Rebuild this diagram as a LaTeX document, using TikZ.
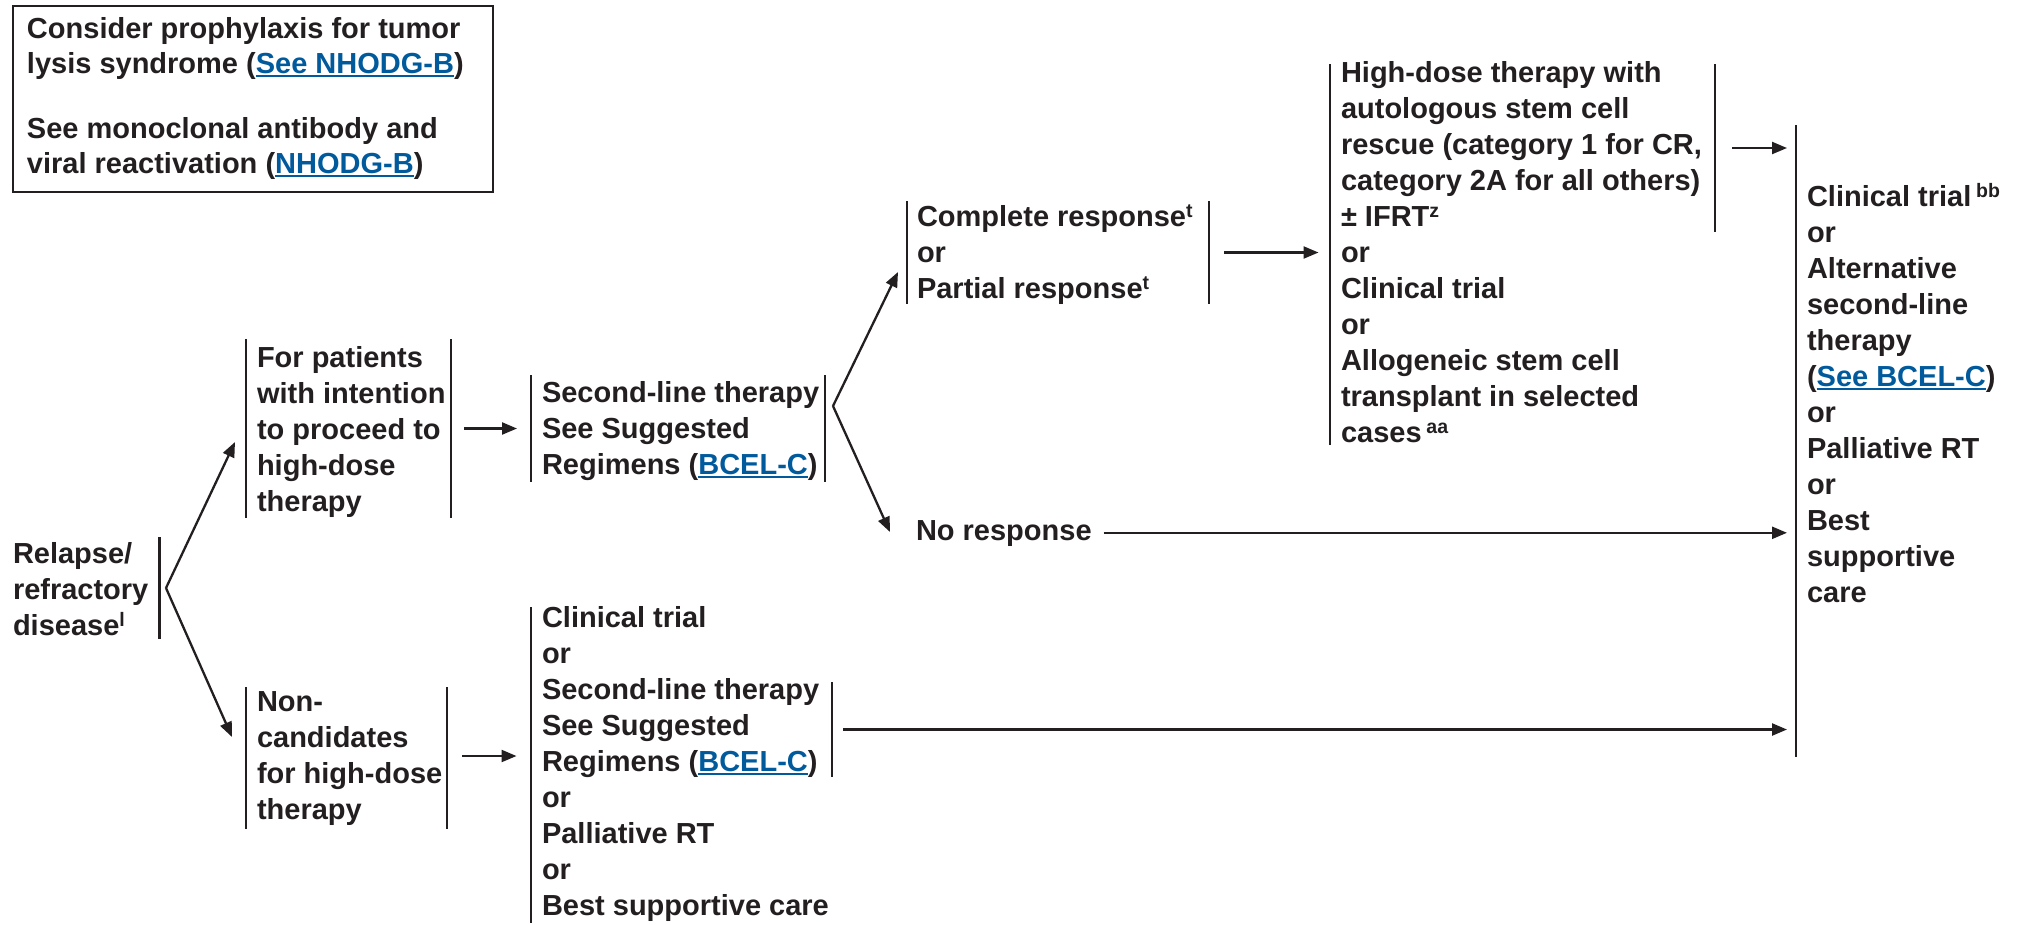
\documentclass[tikz,border=0pt]{standalone}
\usepackage{fontspec}
\setmainfont{Liberation Sans}
\usetikzlibrary{arrows.meta,fit}
\definecolor{ink}{HTML}{231F20}
\definecolor{linkblue}{HTML}{005A9C}
\newcommand\lnk[1]{{\color{linkblue}\setbox0\hbox{#1}\rlap{\rule[-3.5pt]{\wd0}{2pt}}\box0}}
\newcommand\sups[1]{\raisebox{9pt}{\fontsize{19.5}{19.5}\selectfont\bfseries #1}}
\tikzset{
  every node/.style={inner sep=0pt, outer sep=0pt, text=ink},
  txt/.style={anchor=north west, font=\fontsize{29}{36}\selectfont\bfseries},
  frame/.style={inner sep=0pt, draw=none},
  bar/.style={draw=ink, line width=2.6pt},
  arr/.style={draw=ink, line width=2.3pt, -{Triangle[length=15pt,width=12pt]}},
}
\begin{document}
\begin{tikzpicture}[x=1pt,y=-1pt]
\useasboundingbox (0,0) rectangle (2018,924);

% note box
\node[fit={(13,6)(493,192)}, draw=ink, line width=2.8pt] (note) {};
\node[anchor=north west, font=\fontsize{29}{35}\selectfont\bfseries] (noteT) at (27,13.5)
  {\begin{tabular}{@{}l@{}}Consider prophylaxis for tumor\\lysis syndrome (\lnk{See NHODG-B})\\[30pt]
   See monoclonal antibody and\\viral reactivation (\lnk{NHODG-B})\end{tabular}};

% frames (bar extents)
\node[frame, fit={(159,537)(159,639)}] (rel) {};
\node[frame, fit={(246,339)(451,518)}] (fp) {};
\node[frame, fit={(531,375)(825,482)}] (sl) {};
\node[frame, fit={(246,687)(447,829)}] (nc) {};
\node[frame, fit={(531,607)(531,923)}] (bl) {};
\node[frame, fit={(531,682)(832,777)}] (blin) {};
\node[frame, fit={(907,201)(1209,304)}] (cr) {};
\node[frame, fit={(1330,64)(1330,445)}] (hd) {};
\node[frame, fit={(1330,64)(1715,232)}] (hdr) {};
\node[frame, fit={(1796,125)(2010,757)}] (rc) {};

% bars
\draw[bar] (rel.north east) -- (rel.south east);
\draw[bar] (fp.north west) -- (fp.south west) (fp.north east) -- (fp.south east);
\draw[bar] (sl.north west) -- (sl.south west) (sl.north east) -- (sl.south east);
\draw[bar] (nc.north west) -- (nc.south west) (nc.north east) -- (nc.south east);
\draw[bar] (bl.north) -- (bl.south) (blin.north east) -- (blin.south east);
\draw[bar] (cr.north west) -- (cr.south west) (cr.north east) -- (cr.south east);
\draw[bar] (hd.north) -- (hd.south) (hdr.north east) -- (hdr.south east);
\draw[bar] (rc.north west) -- (rc.south west);

% texts
\node[txt] (relT) at (13,537.8)
  {\begin{tabular}{@{}l@{}}Relapse/\\refractory\\disease\sups{l}\end{tabular}};
\node[txt] (fpT) at (257,341.8)
  {\begin{tabular}{@{}l@{}}For patients\\with intention\\to proceed to\\high-dose\\therapy\end{tabular}};
\node[txt] (slT) at (542,376.8)
  {\begin{tabular}{@{}l@{}}Second-line therapy\\See Suggested\\Regimens (\lnk{BCEL-C})\end{tabular}};
\node[txt] (crT) at (917,200.8)
  {\begin{tabular}{@{}l@{}}Complete response\sups{t}\\or\\Partial response\sups{t}\end{tabular}};
\node[txt] (hdT) at (1341,56.8)
  {\begin{tabular}{@{}l@{}}High-dose therapy with\\autologous stem cell\\rescue (category 1 for CR,\\category 2A for all others)\\± IFRT\sups{z}\\or\\Clinical trial\\or\\Allogeneic stem cell\\transplant in selected\\cases\,\sups{aa}\end{tabular}};
\node[txt] (nr) at (916,514.8)
  {\begin{tabular}{@{}l@{}}No response\end{tabular}};
\node[txt] (rcT) at (1807,180.8)
  {\begin{tabular}{@{}l@{}}Clinical trial\,\sups{bb}\\or\\Alternative\\second-line\\therapy\\(\lnk{See BCEL-C})\\or\\Palliative RT\\or\\Best\\supportive\\care\end{tabular}};
\node[txt] (ncT) at (257,685.8)
  {\begin{tabular}{@{}l@{}}Non-\\candidates\\for high-dose\\therapy\end{tabular}};
\node[txt] (blT) at (542,601.8)
  {\begin{tabular}{@{}l@{}}Clinical trial\\or\\Second-line therapy\\See Suggested\\Regimens (\lnk{BCEL-C})\\or\\Palliative RT\\or\\Best supportive care\end{tabular}};

% fork coordinates
\coordinate (forkRel) at (166,588);
\coordinate (tipFP) at (235,442);
\coordinate (tipNC) at (232,737);
\coordinate (forkSL) at (833,406);
\coordinate (tipCR) at (898,272);
\coordinate (tipNR) at (890,532);

% connectors
\draw[arr] (forkRel) -- (tipFP);
\draw[arr] (forkRel) -- (tipNC);
\draw[arr] (forkSL) -- (tipCR);
\draw[arr] (forkSL) -- (tipNR);
\draw[arr, shorten <=13pt, shorten >=14pt] (fp.east) -- (sl.west);
\draw[arr, shorten <=15pt, shorten >=14pt] (nc.east |- 0,756) -- (bl.west |- 0,756);
\draw[arr, shorten <=15pt, shorten >=11pt] (cr.east) -- (hd.west |- cr.east);
\draw[arr, shorten <=17pt, shorten >=9pt] (hdr.east) -- (rc.west |- hdr.east);
\draw[arr, shorten <=11pt, shorten >=9pt] (blin.east) -- (rc.west |- blin.east);
\draw[arr, shorten <=12pt, shorten >=9pt] (nr.east) -- (rc.west |- nr.east);
\end{tikzpicture}
\end{document}
